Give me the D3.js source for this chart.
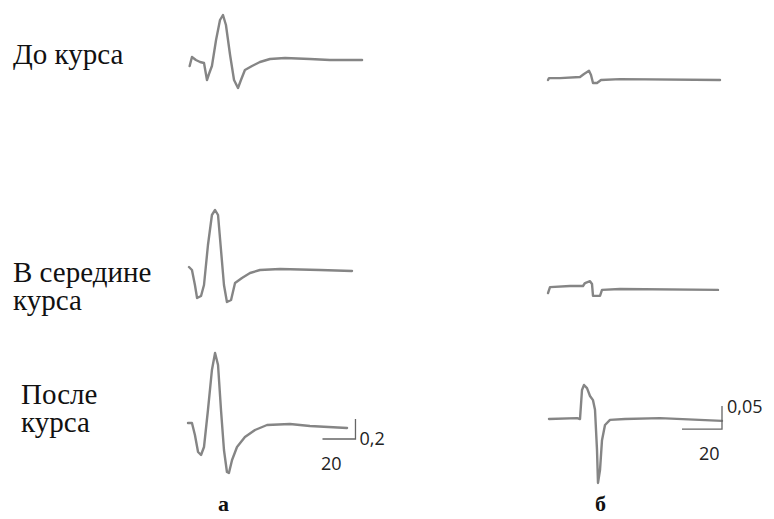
<!DOCTYPE html>
<html>
<head>
<meta charset="utf-8">
<script src="https://cdn.jsdelivr.net/npm/d3@7"></script>
<style>
  body { margin: 0; background: #fff; }
  .trace { fill: none; stroke: #858585; stroke-width: 2.4; stroke-linejoin: round; stroke-linecap: round; }
  .bar { fill: none; stroke: #666; stroke-width: 1.3; }
  .sc { font-family: "Open Sans", sans-serif; font-size: 18px; fill: #222; }
</style>
</head>
<body>
<div id="chart"></div>
<script>
var width = 774;
var height = 519;

// time in ms, amplitude in mV
var a1T = [1, 2.4, 4.8, 7.3, 9.7, 11.5, 12.7, 14.5, 17, 19.4, 21.2, 23, 25.5, 27.9, 30.3, 32.1, 34.5, 38.8, 43.6, 49.7, 58.8, 73.9, 86, 105.5];
var a1V = [-0.06, 0.03, 0, -0.02, -0.03, -0.2, -0.14, -0.06, 0.2, 0.4, 0.45, 0.35, 0.05, -0.2, -0.28, -0.2, -0.1, -0.06, -0.02, 0.01, 0.02, 0.01, 0, 0];

var a2T = [0.6, 2.4, 4.2, 5.5, 7.9, 9.7, 12.1, 14.5, 16.4, 18.2, 20, 21.8, 23.6, 26.1, 28.5, 32.7, 37.6, 43.6, 55.8, 80, 99.4];
var a2V = [0.03, 0, -0.15, -0.28, -0.26, -0.15, 0.25, 0.55, 0.6, 0.55, 0.2, -0.15, -0.32, -0.3, -0.13, -0.08, -0.03, 0, 0.01, 0, -0.01];

var a3T = [0, 2.4, 4.2, 6.1, 7.9, 9.7, 12.1, 14.5, 16.4, 18.2, 20, 21.8, 23.6, 24.8, 26.7, 29.7, 34.5, 40.6, 47.9, 61.8, 73.9, 96.4];
var a3V = [0.04, 0.04, -0.08, -0.25, -0.28, -0.2, 0.17, 0.57, 0.74, 0.62, 0.17, -0.23, -0.45, -0.46, -0.33, -0.2, -0.1, -0.03, 0.02, 0.03, 0.01, -0.01];

var b1T = [0, 0.5, 6, 16, 18, 20.5, 21.5, 22.5, 24.5, 26.5, 36, 86];
var b1V = [0, 0.004, 0.004, 0.0065, 0.013, 0.02, 0.011, -0.0065, -0.0065, 0, 0.002, 0];

var b2T = [0, 1, 11, 17.5, 18.5, 21, 22, 22.5, 26, 27, 36, 85];
var b2V = [-0.009, 0.004, 0.0065, 0.0065, 0.013, 0.017, 0.011, -0.015, -0.015, -0.002, 0, -0.002];

var b3T = [0.5, 14.5, 16, 17, 18, 19.5, 21, 22.5, 23.5, 24.5, 25, 26, 27, 28.5, 31, 38.5, 56, 87];
var b3V = [0, 0.002, 0, 0.063, 0.074, 0.067, 0.05, 0.041, 0.02, -0.067, -0.139, -0.111, -0.046, -0.013, -0.002, 0, 0.002, -0.004];

var rowLabels = [["До курса"], ["В середине", "курса"], ["После", "курса"]];
var panelLabels = ["а", "б"];
var scaleTime = 20;
var scaleAmpA = 0.2;
var scaleAmpB = 0.05;
var scaleTextA = ["0,2", "20"];
var scaleTextB = ["0,05", "20"];

var serif = "'Liberation Serif', 'Times New Roman', Times, serif";

var svg = d3.select("#chart").append("svg")
  .attr("width", width)
  .attr("height", height);

// panel a: 1.65 px per ms, 100 px per mV ; panel b: 2 px per ms, 460 px per mV
var xA = d3.scaleLinear().domain([0, 100]).range([188, 353]);
var xB = d3.scaleLinear().domain([0, 100]).range([548, 748]);
var baseA = [60, 270, 427];
var baseB = [80, 289, 419];

function yScale(base, pxPerMv) {
  return d3.scaleLinear().domain([0, 1]).range([base, base - pxPerMv]);
}

function drawTrace(T, V, x, y) {
  var pts = T.map(function(t, i) { return [t, V[i]]; });
  var line = d3.line()
    .x(function(d) { return x(d[0]); })
    .y(function(d) { return y(d[1]); });
  svg.append("path").attr("class", "trace").attr("d", line(pts));
}

var yA = baseA.map(function(b) { return yScale(b, 100); });
var yB = baseB.map(function(b) { return yScale(b, 460); });

drawTrace(a1T, a1V, xA, yA[0]);
drawTrace(a2T, a2V, xA, yA[1]);
drawTrace(a3T, a3V, xA, yA[2]);
drawTrace(b1T, b1V, xB, yB[0]);
drawTrace(b2T, b2V, xB, yB[1]);
drawTrace(b3T, b3V, xB, yB[2]);

// scale bars
function scaleBar(x, y, tEnd, ampBottom, amp, txt, txtAmpDx, txtAmpY, txtTimeX, txtTimeY) {
  var x1 = x(tEnd), x0 = x(tEnd - scaleTime);
  var yb = y(ampBottom), yt = y(ampBottom + amp);
  svg.append("path").attr("class", "bar")
    .attr("d", "M" + x0 + "," + yb + "H" + x1 + "V" + yt);
  svg.append("text").attr("class", "sc").attr("x", x1 + txtAmpDx).attr("y", txtAmpY).text(txt[0]);
  svg.append("text").attr("class", "sc").attr("x", txtTimeX).attr("y", txtTimeY).text(txt[1]);
}
scaleBar(xA, yA[2], 101.5, -0.12, scaleAmpA, scaleTextA, 4, 445, 321, 470);
scaleBar(xB, yB[2], 87, -0.022, scaleAmpB, scaleTextB, 5, 413, 699, 460);

// row labels
var labelPos = [[13, 64], [13, 282], [21, 404]];
rowLabels.forEach(function(lines, i) {
  lines.forEach(function(s, j) {
    svg.append("text")
      .attr("x", labelPos[i][0]).attr("y", labelPos[i][1] + j * 28)
      .style("font-family", serif)
      .style("font-size", "29px")
      .style("fill", "#111")
      .text(s);
  });
});

svg.selectAll(".pan").data(panelLabels).enter().append("text")
  .attr("class", "pan")
  .attr("x", function(d, i) { return i === 0 ? 218 : 595; })
  .attr("y", 511)
  .style("font-family", serif)
  .style("font-size", "22px")
  .style("font-weight", "bold")
  .style("fill", "#111")
  .text(function(d) { return d; });
</script>
</body>
</html>
